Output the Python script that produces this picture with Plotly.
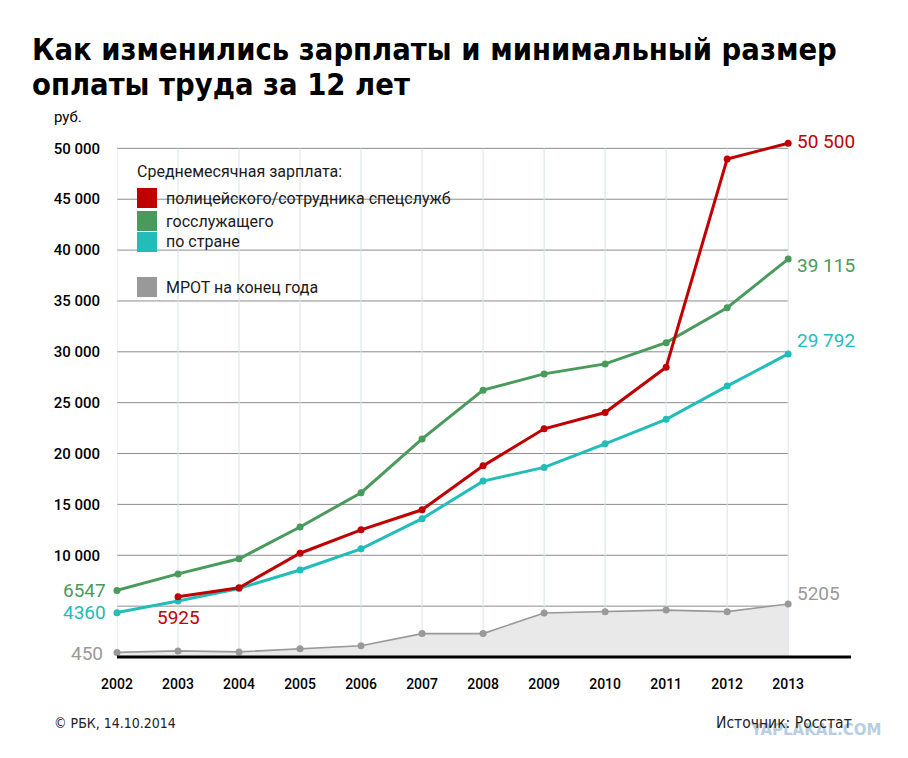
import plotly.graph_objects as go

years = [2002, 2003, 2004, 2005, 2006, 2007, 2008, 2009, 2010, 2011, 2012, 2013]
police = [None, 5925, 6800, 10200, 12500, 14470, 18790, 22430, 24030, 28480, 48950, 50500]
civil = [6547, 8170, 9650, 12780, 16150, 21440, 26230, 27830, 28810, 30900, 34330, 39115]
country = [4360, 5499, 6740, 8555, 10634, 13593, 17290, 18638, 20952, 23369, 26629, 29792]
mrot = [450, 600, 500, 800, 1100, 2300, 2300, 4330, 4460, 4611, 4460, 5205]

ytick_vals = [10000, 15000, 20000, 25000, 30000, 35000, 40000, 45000, 50000]
ytick_text = ["10 000", "15 000", "20 000", "25 000", "30 000", "35 000", "40 000", "45 000", "50 000"]
grid_y = [5000] + ytick_vals

RED = "#c00000"
GREEN = "#4a9a5c"
CYAN = "#22bdb9"
GRAY = "#999999"
FONT = "Roboto"
COND = "DejaVu Sans Condensed, Liberation Sans Narrow, Roboto"

fig = go.Figure()

fig.add_trace(go.Scatter(x=years, y=mrot, mode="lines+markers", fill="tozeroy",
                         fillcolor="#e9e9e9", line=dict(color=GRAY, width=1.6),
                         marker=dict(size=7, color=GRAY), cliponaxis=False,
                         name="МРОТ на конец года"))
fig.add_trace(go.Scatter(x=years, y=country, mode="lines+markers",
                         line=dict(color=CYAN, width=3), marker=dict(size=7, color=CYAN),
                         cliponaxis=False, name="по стране"))
fig.add_trace(go.Scatter(x=years, y=civil, mode="lines+markers",
                         line=dict(color=GREEN, width=3), marker=dict(size=7, color=GREEN),
                         cliponaxis=False, name="госслужащего"))
fig.add_trace(go.Scatter(x=years, y=police, mode="lines+markers",
                         line=dict(color=RED, width=3), marker=dict(size=7, color=RED),
                         cliponaxis=False, connectgaps=False,
                         name="полицейского/сотрудника спецслужб"))

shapes = []
for gy in grid_y:
    shapes.append(dict(type="line", xref="x", yref="y", x0=years[0], x1=years[-1],
                       y0=gy, y1=gy, line=dict(color="#8c8c8c", width=1), layer="below"))
for yr in years:
    shapes.append(dict(type="line", xref="x", yref="y", x0=yr, x1=yr,
                       y0=0, y1=50000, line=dict(color="#d6e4e8", width=1), layer="below"))
shapes.append(dict(type="line", xref="paper", yref="paper", x0=0, x1=1,
                   y0=0, y1=0, line=dict(color="black", width=3), layer="above"))

# page-pixel -> plot-area paper fraction (plot area spans x 117..851, y 128..657 on the page)
def px(x):
    return (x - 117) / 734
def py(y):
    return (657 - y) / 529

annotations = []
# watermark first so that the source text sits on top of it
annotations.append(dict(text="<b>YAPLAKAL.COM</b>", xref="paper", yref="paper", x=px(883), y=py(730),
                        xanchor="right", yanchor="middle", showarrow=False, opacity=0.8,
                        font=dict(family="DejaVu Sans", size=15, color="#a6c3dc")))

legend_items = [(RED, 188, "полицейского/сотрудника спецслужб"),
                (GREEN, 211, "госслужащего"),
                (CYAN, 232, "по стране"),
                ("#999999", 277, "МРОТ на конец года")]
for col, top, txt in legend_items:
    shapes.append(dict(type="rect", xref="paper", yref="paper",
                       x0=px(137), x1=px(157), y0=py(top), y1=py(top + 20),
                       fillcolor=col, line=dict(width=0), layer="above"))
    annotations.append(dict(text=txt, xref="paper", yref="paper", x=px(164), y=py(top + 10),
                            xanchor="left", yanchor="middle", showarrow=False,
                            font=dict(family=FONT, size=16, color="#1a1a1a")))
annotations.append(dict(text="Среднемесячная зарплата:", xref="paper", yref="paper",
                        x=px(135), y=py(171), xanchor="left", yanchor="middle", showarrow=False,
                        font=dict(family=FONT, size=16, color="#1a1a1a")))

def lab(txt, x, y, col, xanchor, xshift=0, yshift=0, size=19):
    annotations.append(dict(text=txt, x=x, y=y, xref="x", yref="y", xanchor=xanchor,
                            yanchor="middle", showarrow=False, xshift=xshift, yshift=yshift,
                            font=dict(family=FONT, size=size, color=col)))

lab("6547", years[0], civil[0], GREEN, "right", xshift=-9)
lab("4360", years[0], country[0], CYAN, "right", xshift=-9)
lab("450", years[0], mrot[0], GRAY, "right", xshift=-12, yshift=-1)
lab("5925", years[1], police[1], RED, "center", yshift=-21)
lab("50 500", years[-1], police[-1], RED, "left", xshift=7, yshift=2)
lab("39 115", years[-1], civil[-1], GREEN, "left", xshift=7, yshift=-6)
lab("29 792", years[-1], country[-1], CYAN, "left", xshift=7, yshift=13)
lab("5205", years[-1], mrot[-1], GRAY, "left", xshift=7, yshift=11)

annotations.append(dict(text="<b>Как изменились зарплаты и минимальный размер</b>",
                        xref="paper", yref="paper", x=px(30), y=py(50), xanchor="left", yanchor="middle",
                        showarrow=False, font=dict(family=COND, size=30.6, color="black")))
annotations.append(dict(text="<b>оплаты труда за 12 лет</b>",
                        xref="paper", yref="paper", x=px(30), y=py(85), xanchor="left", yanchor="middle",
                        showarrow=False, font=dict(family=COND, size=30.6, color="black")))
annotations.append(dict(text="руб.", xref="paper", yref="paper", x=px(52), y=py(117),
                        xanchor="left", yanchor="middle", showarrow=False,
                        font=dict(family=FONT, size=15, color="black")))
annotations.append(dict(text="© РБК, 14.10.2014", xref="paper", yref="paper", x=px(52), y=py(723),
                        xanchor="left", yanchor="middle", showarrow=False,
                        font=dict(family=COND, size=14, color="#222222")))
annotations.append(dict(text="Источник: Росстат", xref="paper", yref="paper", x=px(854), y=py(723),
                        xanchor="right", yanchor="middle", showarrow=False,
                        font=dict(family=COND, size=15.5, color="#222222")))

fig.update_layout(
    width=900, height=750,
    margin=dict(l=109, r=57, t=120, b=101),
    paper_bgcolor="white", plot_bgcolor="white",
    showlegend=False,
    shapes=shapes, annotations=annotations,
    xaxis=dict(range=[2002, 2014.03], tickvals=years, ticktext=[str(y) for y in years],
               showgrid=False, zeroline=False, showline=False, ticks="",
               ticklabelstandoff=17, fixedrange=True,
               tickfont=dict(family=FONT, size=14, color="black", weight=500)),
    yaxis=dict(range=[0, 52000], tickvals=ytick_vals, ticktext=ytick_text,
               showgrid=False, zeroline=False, showline=False, ticks="",
               ticklabelstandoff=16, fixedrange=True,
               tickfont=dict(family=FONT, size=15, color="black", weight=500)),
)

fig.write_html("out.html")
